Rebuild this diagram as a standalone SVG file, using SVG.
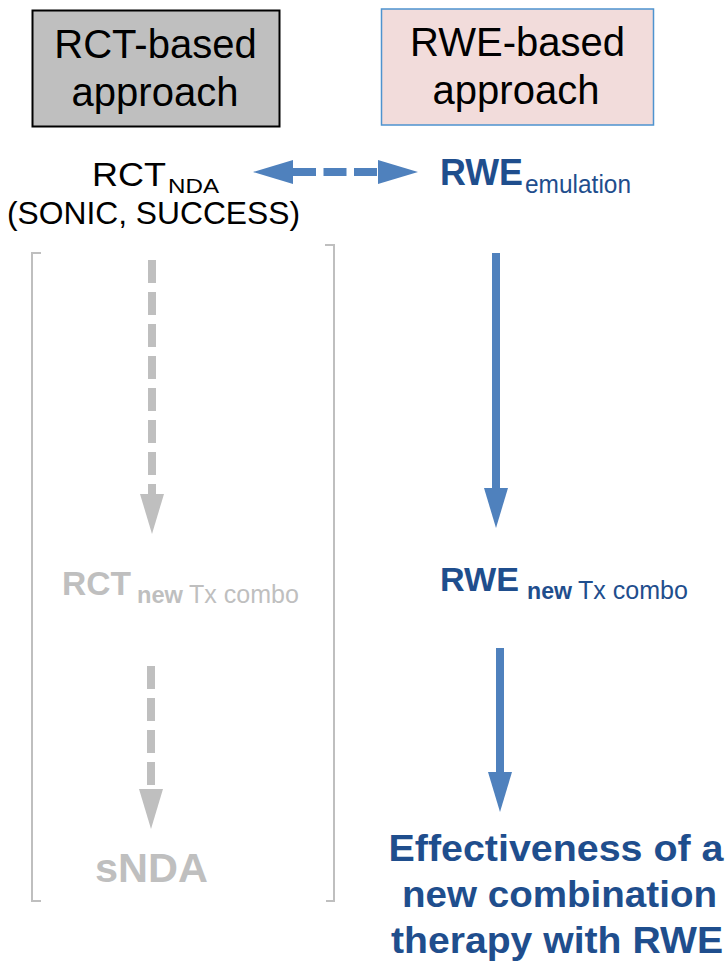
<svg xmlns="http://www.w3.org/2000/svg" width="728" height="967" viewBox="0 0 728 967">
<style>
  text { font-family: "Liberation Sans", Arial, sans-serif; }
  .title { font-size: 40px; fill: #000; text-anchor: middle; }
  .blue { fill: #1F4E8D; }
  .gray { fill: #BFBFBF; }
  .b { font-weight: bold; }
  .bracket { fill: none; stroke: #BFBFBF; stroke-width: 2; }
  .shaftBlue { stroke: #4F81BD; stroke-width: 8; fill: none; }
  .shaftGray { stroke: #BFBFBF; stroke-width: 8; fill: none; }
</style>
<defs>
  <marker id="headBlue" markerUnits="userSpaceOnUse" markerWidth="40" markerHeight="24" viewBox="0 0 40 24" refX="0" refY="12" orient="auto-start-reverse">
    <path d="M0,0 L40,12 L0,24 z" fill="#4F81BD"/>
  </marker>
  <marker id="headGray" markerUnits="userSpaceOnUse" markerWidth="40" markerHeight="24" viewBox="0 0 40 24" refX="0" refY="12" orient="auto">
    <path d="M0,0 L40,12 L0,24 z" fill="#BFBFBF"/>
  </marker>
</defs>

<g id="rct-header">
  <rect x="32.5" y="10.5" width="247" height="116" fill="#BFBFBF" stroke="#000" stroke-width="2"/>
  <text class="title" x="155.5" y="58">RCT-based</text>
  <text class="title" x="155" y="106">approach</text>
</g>

<g id="rwe-header">
  <rect x="381.5" y="9" width="272" height="116" fill="#F2DCDB" stroke="#4E93CF" stroke-width="1.5"/>
  <text class="title" x="517.5" y="56">RWE-based</text>
  <text class="title" x="516" y="104">approach</text>
</g>

<g id="rct-bracket">
  <path class="bracket" d="M41,253 L32,253 L32,901 L41,901"/>
  <path class="bracket" d="M325,245 L334,245 L334,901 L326,901"/>
</g>

<g id="rct-nda">
  <text x="92" y="186" style="font-size:34px" fill="#000" textLength="74" lengthAdjust="spacingAndGlyphs">RCT</text>
  <text x="168" y="193" style="font-size:21px" fill="#000" textLength="51" lengthAdjust="spacingAndGlyphs">NDA</text>
  <text x="153.5" y="224" style="font-size:32px" fill="#000" text-anchor="middle" textLength="293" lengthAdjust="spacingAndGlyphs">(SONIC, SUCCESS)</text>
</g>

<g id="rwe-emulation">
  <text class="blue b" x="440" y="185" style="font-size:36px" textLength="83" lengthAdjust="spacingAndGlyphs">RWE</text>
  <text class="blue" x="525" y="193" style="font-size:26px" textLength="106" lengthAdjust="spacingAndGlyphs">emulation</text>
</g>

<g id="rct-new">
  <text class="gray b" x="62" y="595" style="font-size:33px" textLength="69" lengthAdjust="spacingAndGlyphs">RCT</text>
  <text class="gray b" x="137" y="603" style="font-size:24px" textLength="46" lengthAdjust="spacingAndGlyphs">new</text>
  <text class="gray" x="189" y="603" style="font-size:25px" textLength="110" lengthAdjust="spacingAndGlyphs">Tx combo</text>
</g>

<g id="rwe-new">
  <text class="blue b" x="440" y="591" style="font-size:34px" textLength="79" lengthAdjust="spacingAndGlyphs">RWE</text>
  <text class="blue b" x="527" y="599" style="font-size:24px" textLength="45" lengthAdjust="spacingAndGlyphs">new</text>
  <text class="blue" x="578" y="599" style="font-size:25px" textLength="110" lengthAdjust="spacingAndGlyphs">Tx combo</text>
</g>

<g id="snda">
  <text class="gray b" x="151.5" y="882" style="font-size:41px" text-anchor="middle" textLength="113" lengthAdjust="spacingAndGlyphs">sNDA</text>
</g>

<g id="effectiveness">
  <text class="blue b" x="556" y="861" style="font-size:36px" text-anchor="middle" textLength="335" lengthAdjust="spacingAndGlyphs">Effectiveness of a</text>
  <text class="blue b" x="559.5" y="907" style="font-size:36px" text-anchor="middle" textLength="315" lengthAdjust="spacingAndGlyphs">new combination</text>
  <text class="blue b" x="557" y="953" style="font-size:36px" text-anchor="middle" textLength="332" lengthAdjust="spacingAndGlyphs">therapy with RWE</text>
</g>

<g id="connectors">
  <line class="shaftBlue" x1="293" y1="172" x2="378" y2="172" stroke-dasharray="23 7.5" marker-start="url(#headBlue)" marker-end="url(#headBlue)"/>
  <line class="shaftBlue" x1="496" y1="253" x2="496" y2="488" marker-end="url(#headBlue)"/>
  <line class="shaftBlue" x1="500" y1="648" x2="500" y2="772" marker-end="url(#headBlue)"/>
  <line class="shaftGray" x1="152" y1="260" x2="152" y2="494" stroke-dasharray="23 9" marker-end="url(#headGray)"/>
  <line class="shaftGray" x1="151" y1="666" x2="151" y2="789" stroke-dasharray="23 9" marker-end="url(#headGray)"/>
</g>
</svg>
